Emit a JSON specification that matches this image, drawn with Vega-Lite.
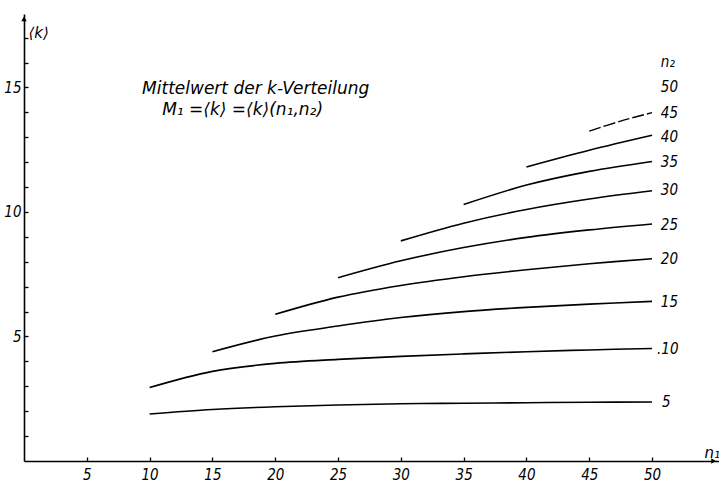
{
  "$schema": "https://vega.github.io/schema/vega-lite/v6.json",
  "width": 695,
  "height": 447,
  "autosize": {"type": "none"},
  "padding": {"left": 24, "top": 14, "right": 0, "bottom": 22},
  "background": "white",
  "config": {"view": {"stroke": null}, "font": "Liberation Sans"},
  "datasets": {
    "curves": [
      {"n2": 5, "n1": 10, "k": 1.89}, {"n2": 5, "n1": 15, "k": 2.07}, {"n2": 5, "n1": 20, "k": 2.18}, {"n2": 5, "n1": 25, "k": 2.25}, {"n2": 5, "n1": 30, "k": 2.3}, {"n2": 5, "n1": 35, "k": 2.32}, {"n2": 5, "n1": 40, "k": 2.34}, {"n2": 5, "n1": 45, "k": 2.36}, {"n2": 5, "n1": 50, "k": 2.37},
      {"n2": 10, "n1": 10, "k": 2.95}, {"n2": 10, "n1": 15, "k": 3.6}, {"n2": 10, "n1": 20, "k": 3.92}, {"n2": 10, "n1": 25, "k": 4.08}, {"n2": 10, "n1": 30, "k": 4.2}, {"n2": 10, "n1": 35, "k": 4.3}, {"n2": 10, "n1": 40, "k": 4.39}, {"n2": 10, "n1": 45, "k": 4.46}, {"n2": 10, "n1": 50, "k": 4.52},
      {"n2": 15, "n1": 15, "k": 4.39}, {"n2": 15, "n1": 20, "k": 5.02}, {"n2": 15, "n1": 25, "k": 5.42}, {"n2": 15, "n1": 30, "k": 5.76}, {"n2": 15, "n1": 35, "k": 6.0}, {"n2": 15, "n1": 40, "k": 6.17}, {"n2": 15, "n1": 45, "k": 6.3}, {"n2": 15, "n1": 50, "k": 6.41},
      {"n2": 20, "n1": 20, "k": 5.89}, {"n2": 20, "n1": 25, "k": 6.58}, {"n2": 20, "n1": 30, "k": 7.05}, {"n2": 20, "n1": 35, "k": 7.4}, {"n2": 20, "n1": 40, "k": 7.68}, {"n2": 20, "n1": 45, "k": 7.92}, {"n2": 20, "n1": 50, "k": 8.12},
      {"n2": 25, "n1": 25, "k": 7.36}, {"n2": 25, "n1": 30, "k": 8.04}, {"n2": 25, "n1": 35, "k": 8.57}, {"n2": 25, "n1": 40, "k": 8.98}, {"n2": 25, "n1": 45, "k": 9.28}, {"n2": 25, "n1": 50, "k": 9.52},
      {"n2": 30, "n1": 30, "k": 8.84}, {"n2": 30, "n1": 35, "k": 9.55}, {"n2": 30, "n1": 40, "k": 10.1}, {"n2": 30, "n1": 45, "k": 10.52}, {"n2": 30, "n1": 50, "k": 10.85},
      {"n2": 35, "n1": 35, "k": 10.3}, {"n2": 35, "n1": 40, "k": 11.08}, {"n2": 35, "n1": 45, "k": 11.63}, {"n2": 35, "n1": 50, "k": 12.03},
      {"n2": 40, "n1": 40, "k": 11.81}, {"n2": 40, "n1": 45, "k": 12.48}, {"n2": 40, "n1": 50, "k": 13.08},
      {"n2": 45, "n1": 45, "k": 13.25}, {"n2": 45, "n1": 47.5, "k": 13.65}, {"n2": 45, "n1": 50, "k": 13.99}
    ],
    "labels": [
      {"t": "n₂", "n1": 50.7, "k": 16.04},
      {"t": "50", "n1": 50.7, "k": 15.02},
      {"t": "45", "n1": 50.7, "k": 13.98},
      {"t": "40", "n1": 50.7, "k": 13.0},
      {"t": "35", "n1": 50.7, "k": 12.0},
      {"t": "30", "n1": 50.7, "k": 10.88},
      {"t": "25", "n1": 50.7, "k": 9.47},
      {"t": "20", "n1": 50.7, "k": 8.11},
      {"t": "15", "n1": 50.7, "k": 6.39},
      {"t": ".10", "n1": 50.4, "k": 4.5},
      {"t": "5", "n1": 50.8, "k": 2.38}
    ],
    "notes": [
      {"t": "Mittelwert der k-Verteilung", "n1": 9.4, "k": 14.94},
      {"t": "M₁ =⟨k⟩ =⟨k⟩(n₁,n₂)", "n1": 11.0, "k": 14.1}
    ],
    "arrows": [
      {"dir": "up", "n1": 0, "k": 17.75},
      {"dir": "right", "n1": 54.9, "k": 0}
    ]
  },
  "encoding": {
    "x": {
      "field": "n1", "type": "quantitative",
      "scale": {"domain": [0, 55.33], "nice": false, "zero": false},
      "axis": {
        "title": "n₁", "titleX": 680, "titleY": -9, "titleAlign": "left", "titleBaseline": "middle", "titleAngle": 0,
        "titleFont": "DejaVu Sans", "titleFontStyle": "italic", "titleFontWeight": "normal", "titleFontSize": 15, "titleColor": "black",
        "values": [5, 10, 15, 20, 25, 30, 35, 40, 45, 50],
        "tickSize": -4, "tickColor": "black", "tickWidth": 1.3,
        "labelPadding": 10, "labelFont": "DejaVu Sans Condensed, Liberation Sans", "labelFontStyle": "italic", "labelFontSize": 15, "labelColor": "black",
        "domainColor": "black", "domainWidth": 1.6, "grid": false
      }
    },
    "y": {
      "field": "k", "type": "quantitative",
      "scale": {"domain": [0, 17.95], "nice": false, "zero": false},
      "axis": {
        "title": "⟨k⟩", "titleX": 4, "titleY": 18, "titleAlign": "left", "titleBaseline": "middle", "titleAngle": 0,
        "titleFont": "DejaVu Sans", "titleFontStyle": "italic", "titleFontWeight": "normal", "titleFontSize": 15, "titleColor": "black",
        "values": [1, 2, 3, 4, 5, 6, 7, 8, 9, 10, 11, 12, 13, 14, 15, 16, 17],
        "labelExpr": "datum.value % 5 === 0 ? datum.label : ''",
        "tickSize": -4, "tickColor": "black", "tickWidth": 1.3,
        "labelPadding": 7, "labelFont": "DejaVu Sans Condensed, Liberation Sans", "labelFontStyle": "italic", "labelFontSize": 15, "labelColor": "black",
        "domainColor": "black", "domainWidth": 1.6, "grid": false
      }
    }
  },
  "layer": [
    {
      "data": {"name": "curves"},
      "transform": [{"filter": "datum.n2 != 45"}],
      "mark": {"type": "line", "color": "black", "strokeWidth": 1.6, "interpolate": "catmull-rom"},
      "encoding": {"detail": {"field": "n2", "type": "nominal"}}
    },
    {
      "data": {"name": "curves"},
      "transform": [{"filter": "datum.n2 == 45"}],
      "mark": {"type": "line", "color": "black", "strokeWidth": 1.4, "interpolate": "catmull-rom", "strokeDash": [12, 3]},
      "encoding": {"detail": {"field": "n2", "type": "nominal"}}
    },
    {
      "data": {"name": "labels"},
      "mark": {"type": "text", "align": "left", "baseline": "middle", "font": "DejaVu Sans Condensed, Liberation Sans", "fontStyle": "italic", "fontSize": 15, "color": "black"},
      "encoding": {"text": {"field": "t"}}
    },
    {
      "data": {"name": "notes"},
      "mark": {"type": "text", "align": "left", "baseline": "middle", "font": "DejaVu Sans", "fontStyle": "italic", "fontSize": 17, "color": "black"},
      "encoding": {"text": {"field": "t"}}
    },
    {
      "data": {"name": "arrows"},
      "transform": [{"filter": "datum.dir == 'up'"}],
      "mark": {"type": "point", "shape": "triangle-up", "filled": true, "color": "black", "size": 30, "opacity": 1}
    },
    {
      "data": {"name": "arrows"},
      "transform": [{"filter": "datum.dir == 'right'"}],
      "mark": {"type": "point", "shape": "triangle-right", "filled": true, "color": "black", "size": 30, "opacity": 1}
    }
  ]
}
